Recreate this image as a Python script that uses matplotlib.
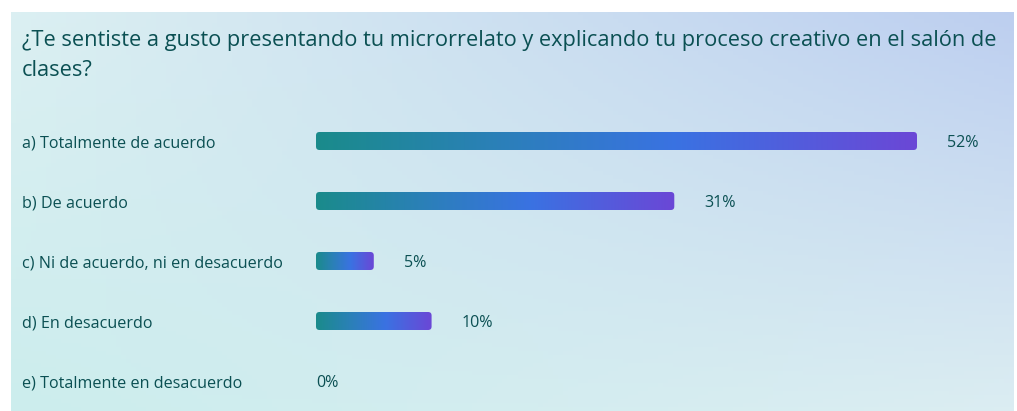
import numpy as np
import matplotlib
matplotlib.use('Agg')
import matplotlib.pyplot as plt
from matplotlib.colors import LinearSegmentedColormap
from matplotlib.patches import FancyBboxPatch

# data
title = "¿Te sentiste a gusto presentando tu microrrelato y explicando tu proceso creativo en el salón de\nclases?"
categories = ["a) Totalmente de acuerdo", "b) De acuerdo", "c) Ni de acuerdo, ni en desacuerdo",
              "d) En desacuerdo", "e) Totalmente en desacuerdo"]
values = [52, 31, 5, 10, 0]

TEXT = '#0b5053'
FONT = 'Open Sans'
W, H = 1017, 411

fig = plt.figure(figsize=(W / 100, H / 100), dpi=100)
fig.patch.set_facecolor('white')

# background panel with soft gradient
bg = fig.add_axes([11 / W, 0, (W - 14) / W, (H - 12) / H])
bg.set_axis_off()
tl = np.array([0.86, 0.94, 0.95])
tr = np.array([0.74, 0.81, 0.94])
bl = np.array([0.80, 0.93, 0.93])
br = np.array([0.86, 0.93, 0.95])
yy, xx = np.mgrid[0:1:100j, 0:1:200j]
img = ((1 - yy)[..., None] * ((1 - xx)[..., None] * tl + xx[..., None] * tr)
       + yy[..., None] * ((1 - xx)[..., None] * bl + xx[..., None] * br))
bg.imshow(img, aspect='auto', extent=[0, 1, 0, 1], origin='upper')
bg.set_xlim(0, 1)
bg.set_ylim(0, 1)

fig.text(22 / W, 1 - 55.5 / H, title, fontsize=15.7, color=TEXT, family=FONT,
         va='center', ha='left', linespacing=1.55)

# bar area
px_per_pct = (917 - 316) / 52
left_px, right_px = 316, 1010
ax = fig.add_axes([left_px / W, 0, (right_px - left_px) / W, 300 / H])
ax.set_axis_off()

cmap = LinearSegmentedColormap.from_list(
    'bar', [(0, '#1a8b8b'), (0.3, '#2b80b8'), (0.6, '#3a72e2'), (1, '#6b47d6')])
grad = np.linspace(0, 1, 256).reshape(1, -1)

ypos = np.arange(len(values))
bars = ax.barh(ypos, values, height=0.3, color='none')
aspect = px_per_pct / 60.0
for rect, v, y, lab in zip(bars, values, ypos, categories):
    fig.text(22 / W, 1 - (141.5 + 60 * y) / H, lab, fontsize=11.6, color=TEXT,
             family=FONT, va='center_baseline', ha='left')
    if v > 0:
        x0, y0 = rect.get_x(), rect.get_y()
        w, h = rect.get_width(), rect.get_height()
        patch = FancyBboxPatch((x0, y0), w, h, boxstyle='round,pad=0,rounding_size=0.3',
                               mutation_aspect=aspect, facecolor='none', edgecolor='none')
        ax.add_patch(patch)
        im = ax.imshow(grad, cmap=cmap, aspect='auto', extent=[x0, x0 + w, y0 + h, y0],
                       interpolation='bilinear')
        im.set_clip_path(patch)
        ax.text(v + 30 / px_per_pct, y, f'{v}%', color=TEXT, fontsize=11.6,
                family=FONT, va='center_baseline', ha='left')
    else:
        ax.text(0, y, f'{v}%', color=TEXT, fontsize=11.6, family=FONT,
                va='center_baseline', ha='left')

ax.set_xlim(0, (right_px - left_px) / px_per_pct)
ax.set_ylim(len(values) - 0.5, -0.5)

fig.savefig('out.png', dpi=100)
